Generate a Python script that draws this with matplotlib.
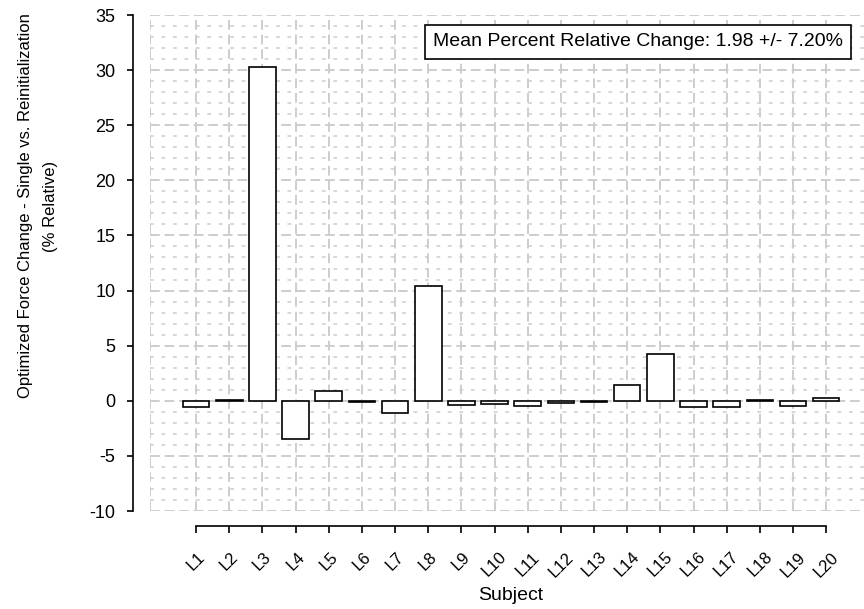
import numpy as np
import matplotlib.pyplot as plt
from matplotlib.ticker import MultipleLocator

plt.rcParams['font.family'] = ['Liberation Sans', 'DejaVu Sans']
plt.rcParams['axes.unicode_minus'] = False

# Subjects and per-subject percent relative change
subjects = ["L1", "L2", "L3", "L4", "L5", "L6", "L7", "L8", "L9", "L10",
            "L11", "L12", "L13", "L14", "L15", "L16", "L17", "L18", "L19", "L20"]
pct_change = [-0.55, 0.05, 30.3, -3.5, 0.9, -0.15, -1.15, 10.4, -0.35, -0.25,
              -0.45, -0.2, -0.08, 1.4, 4.2, -0.6, -0.55, 0.05, -0.45, 0.25]
summary_text = "Mean Percent Relative Change: 1.98 +/- 7.20%"

W, H = 864, 609
fig = plt.figure(figsize=(W / 100, H / 100), dpi=100)
ax = fig.add_axes([150 / W, 1 - 511 / H, 714 / W, 496 / H])

x = np.arange(len(subjects))
ax.bar(x, pct_change, width=0.8, color="white", edgecolor="black", linewidth=1.2, zorder=3)

ax.set_xlim(-1.39, 20.14)
ax.set_ylim(-10, 35)
ax.set_xticks(x, subjects)
ax.yaxis.set_major_locator(MultipleLocator(5))
ax.yaxis.set_minor_locator(MultipleLocator(1))

# grid
gcol = "#cdcdcd"
ax.set_axisbelow(True)
ax.grid(which="major", axis="y", color=gcol, ls=(0, (5, 2.5)), lw=1.4)
ax.grid(which="minor", axis="y", color=gcol, ls=(0, (2.5, 5)), lw=1.1)
ax.grid(which="major", axis="x", color=gcol, ls=(0, (5, 2.5)), lw=1.4)
ax.axvline(-1.39, color=gcol, ls=(0, (5, 2.5)), lw=1.4, zorder=0.5)

# offset axes like R base graphics
for s in ["top", "right"]:
    ax.spines[s].set_visible(False)
ax.spines["left"].set_position(("outward", 12.5))
ax.spines["left"].set_bounds(-10, 35)
ax.spines["bottom"].set_position(("outward", 10.8))
ax.spines["bottom"].set_bounds(0, 19)
for s in ["left", "bottom"]:
    ax.spines[s].set_linewidth(1.2)

ax.tick_params(axis="y", which="major", length=4.3, width=1.2, pad=8, labelsize=13)
ax.tick_params(axis="y", which="minor", length=0)
ax.tick_params(axis="x", which="major", length=4.8, width=1.2, pad=12, labelsize=12,
               labelrotation=45)
for lbl in ax.get_xticklabels():
    lbl.set_ha("center")
    lbl.set_va("top")

fig.text(38 / W, 1 - 206 / H,
         "Optimized Force Change - Single vs. Reinitialization\n(% Relative)",
         rotation=90, ha="center", va="center", multialignment="center",
         fontsize=12, linespacing=1.9)
fig.text(511 / W, 1 - 596 / H, "Subject", ha="center", va="center", fontsize=14)

fig.text(638 / W, 1 - 42 / H, summary_text, ha="center", va="center", fontsize=14,
         bbox=dict(boxstyle="square,pad=0.42", fc="white", ec="black", lw=1.2))

fig.savefig("out.png", dpi=100)
